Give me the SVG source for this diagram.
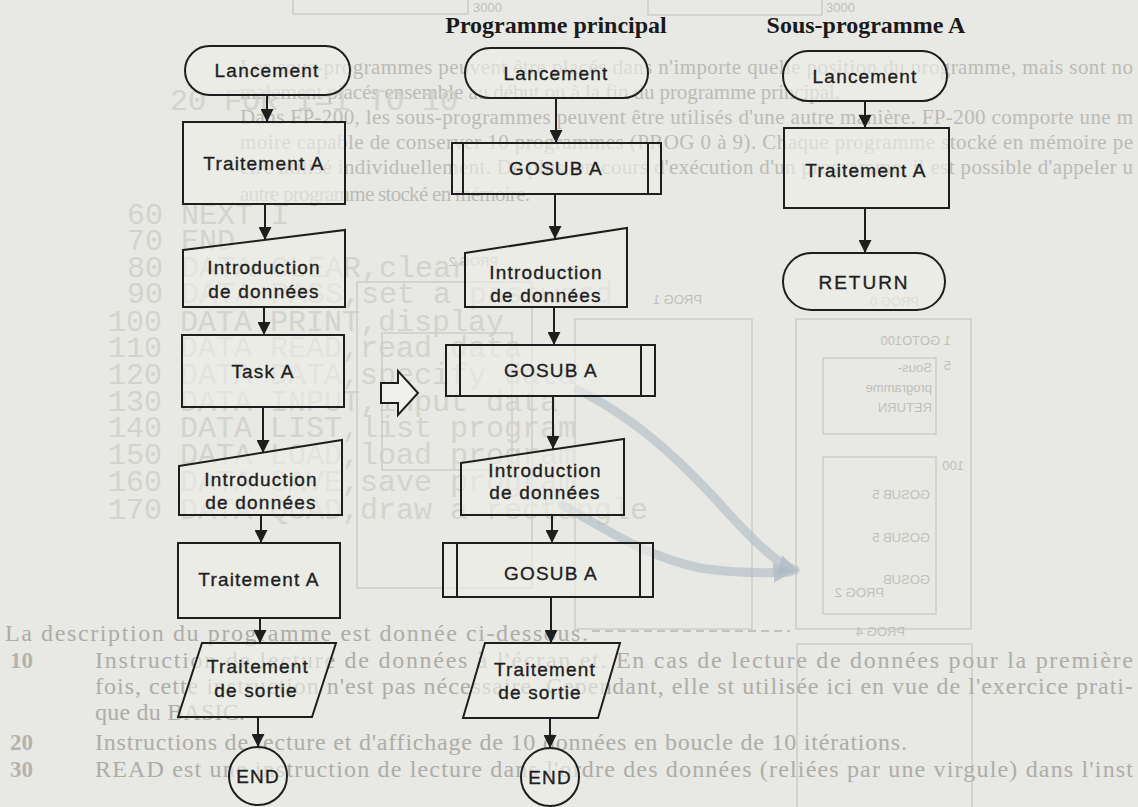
<svg xmlns="http://www.w3.org/2000/svg" width="1138" height="807" viewBox="0 0 1138 807">
<style>
.bg{fill:#e8e8e4}
.ghost{font-family:"Liberation Serif",serif;font-size:21px;fill:#bbbbb6}
.ghostd{font-family:"Liberation Serif",serif;font-size:24px;fill:#adada8}
.ghostb{font-family:"Liberation Serif",serif;font-size:23px;font-weight:bold;fill:#b3b3ad}
.mono{font-family:"Liberation Mono",monospace;font-size:30px;fill:#d3d3ce}
.gsans{font-family:"Liberation Sans",sans-serif;font-size:13px;fill:#c0c0bb}
.gbox{fill:none;stroke:#cdcdc8;stroke-width:1.5}
.title{font-family:"Liberation Serif",serif;font-size:24px;font-weight:bold;fill:#1a1a1a;text-anchor:middle}
.shape{fill:#eeeeea;fill-opacity:0.6;stroke:#1e1e1e;stroke-width:2}
.lbl{font-family:"Liberation Sans",sans-serif;font-size:19px;letter-spacing:1.2px;fill:#1e1e1e;stroke:#1e1e1e;stroke-width:0.35;text-anchor:middle}
.conn{stroke:#1e1e1e;stroke-width:2;fill:none}
.swoosh{fill:none;stroke:#afbbc4;stroke-opacity:0.6;stroke-width:9;stroke-linecap:round}
</style>
<defs>
<marker id="ah" viewBox="0 0 12 12" refX="12" refY="6" markerWidth="13" markerHeight="13" markerUnits="userSpaceOnUse" orient="auto">
<path d="M0,0 L12,6 L0,12 z" fill="#1e1e1e"/>
</marker>
<marker id="gh" viewBox="0 0 12 12" refX="10" refY="6" markerWidth="20" markerHeight="20" markerUnits="userSpaceOnUse" orient="auto">
<path d="M0,0 L12,6 L0,12 z" fill="#afbbc4" fill-opacity="0.75"/>
</marker>
</defs>
<rect class="bg" x="0" y="0" width="1138" height="807"/>

<g id="background-showthrough">
<path class="gbox" d="M293,0 V14 H468 V0 M648,0 V15 H822 V0"/>
<text class="gsans" x="473" y="12">3000</text>
<text class="gsans" x="826" y="12">3000</text>
<text class="ghost" x="240" y="74" textLength="893" lengthAdjust="spacing">Les sous-programmes peuvent être placés dans n'importe quelle position du programme, mais sont no</text>
<text class="ghost" x="240" y="99" textLength="600" lengthAdjust="spacing">malement placés ensemble au début ou à la fin du programme principal.</text>
<text class="ghost" x="240" y="124" textLength="893" lengthAdjust="spacing">Dans FP-200, les sous-programmes peuvent être utilisés d'une autre manière. FP-200 comporte une m</text>
<text class="ghost" x="240" y="149" textLength="893" lengthAdjust="spacing">moire capable de conserver 10 programmes (PROG 0 à 9). Chaque programme stocké en mémoire pe</text>
<text class="ghost" x="240" y="174" textLength="893" lengthAdjust="spacing">être utilisé individuellement. De plus, en cours d'exécution d'un programme, il est possible d'appeler u</text>
<text class="ghost" x="240" y="201" textLength="290" lengthAdjust="spacing">autre programme stocké en mémoire.</text>
<text class="mono" x="170" y="110">20 FOR I=1 TO 10</text>
<text class="mono" x="127" y="224">60 NEXT I</text>
<text class="mono" x="127" y="250">70 END</text>
<text class="mono" x="127" y="277">80 DATA CLEAR,clear</text>
<text class="mono" x="127" y="303">90 DATA PASS,set a password</text>
<text class="mono" x="108" y="331">100 DATA PRINT,display</text>
<text class="mono" x="108" y="357">110 DATA READ,read data</text>
<text class="mono" x="108" y="384">120 DATA DATA,specify data</text>
<text class="mono" x="108" y="411">130 DATA INPUT,input data</text>
<text class="mono" x="108" y="437">140 DATA LIST,list program</text>
<text class="mono" x="108" y="464">150 DATA LOAD,load program</text>
<text class="mono" x="108" y="491">160 DATA SAVE,save program</text>
<text class="mono" x="108" y="519">170 DATA QUAD,draw a rectangle</text>
<rect class="gbox" x="357" y="282" width="175" height="306"/>
<rect class="gbox" x="382" y="333" width="130" height="137"/>
<text class="gsans" transform="translate(498,266) scale(-1,1)">PROG 2</text>
<rect class="gbox" x="575" y="319" width="177" height="310"/>
<text class="gsans" transform="translate(702,304) scale(-1,1)">PROG 1</text>
<rect class="gbox" x="796" y="319" width="175" height="310"/>
<text class="gsans" transform="translate(919,306) scale(-1,1)">PROG 0</text>
<text class="gsans" transform="translate(951,345) scale(-1,1)">1 GOTO100</text>
<text class="gsans" transform="translate(951,370) scale(-1,1)">5</text>
<rect class="gbox" x="823" y="358" width="113" height="76"/>
<text class="gsans" transform="translate(932,372) scale(-1,1)">Sous-</text>
<text class="gsans" transform="translate(932,392) scale(-1,1)">programme</text>
<text class="gsans" transform="translate(932,412) scale(-1,1)">RETURN</text>
<rect class="gbox" x="823" y="457" width="113" height="157"/>
<text class="gsans" transform="translate(964,470) scale(-1,1)">100</text>
<text class="gsans" transform="translate(930,499) scale(-1,1)">GOSUB 5</text>
<text class="gsans" transform="translate(930,542) scale(-1,1)">GOSUB 5</text>
<text class="gsans" transform="translate(930,584) scale(-1,1)">GOSUB</text>
<text class="gsans" transform="translate(884,597) scale(-1,1)">PROG 2</text>
<path d="M592,631 H790" stroke="#b5b5b0" stroke-width="1.5" stroke-dasharray="8,5"/>
<text class="gsans" transform="translate(905,636) scale(-1,1)">PROG 4</text>
<rect class="gbox" x="797" y="644" width="175" height="170"/>
<text class="ghostd" x="5" y="641" textLength="583" lengthAdjust="spacing">La description du programme est donnée ci-dessous.</text>
<text class="ghostb" x="10" y="668">10</text>
<text class="ghostd" x="95" y="668" textLength="1038" lengthAdjust="spacing">Instruction de lecture de données à l'écran et. En cas de lecture de données pour la première</text>
<text class="ghostd" x="95" y="694" textLength="1038" lengthAdjust="spacing">fois, cette instruction n'est pas nécessaire. Cependant, elle st utilisée ici en vue de l'exercice prati-</text>
<text class="ghostd" x="95" y="720" textLength="150" lengthAdjust="spacing">que du BASIC.</text>
<text class="ghostb" x="10" y="750">20</text>
<text class="ghostd" x="95" y="750" textLength="812" lengthAdjust="spacing">Instructions de lecture et d'affichage de 10 données en boucle de 10 itérations.</text>
<text class="ghostb" x="10" y="777">30</text>
<text class="ghostd" x="95" y="777" textLength="1038" lengthAdjust="spacing">READ est une instruction de lecture dans l'ordre des données (reliées par une virgule) dans l'inst</text>
<path class="swoosh" d="M578,390 C640,420 690,470 730,515 C760,548 780,565 795,570" marker-end="url(#gh)"/>
<path class="swoosh" d="M562,505 C600,525 640,555 700,568 C740,574 770,573 790,572" marker-end="url(#gh)"/>
</g>

<text class="title" x="556" y="33">Programme principal</text>
<text class="title" x="866" y="33">Sous-programme A</text>

<g id="connectors">
<path class="conn" d="M267,95 V122" marker-end="url(#ah)"/>
<path class="conn" d="M265,204 V240" marker-end="url(#ah)"/>
<path class="conn" d="M264,307 V335" marker-end="url(#ah)"/>
<path class="conn" d="M263,407 V453" marker-end="url(#ah)"/>
<path class="conn" d="M261,515 V543" marker-end="url(#ah)"/>
<path class="conn" d="M260,618 V643" marker-end="url(#ah)"/>
<path class="conn" d="M258,717 V747" marker-end="url(#ah)"/>
<path class="conn" d="M556,98 V143" marker-end="url(#ah)"/>
<path class="conn" d="M555,194 V239" marker-end="url(#ah)"/>
<path class="conn" d="M554,307 V345" marker-end="url(#ah)"/>
<path class="conn" d="M553,396 V449" marker-end="url(#ah)"/>
<path class="conn" d="M552,515 V543" marker-end="url(#ah)"/>
<path class="conn" d="M551,597 V643" marker-end="url(#ah)"/>
<path class="conn" d="M550,718 V748" marker-end="url(#ah)"/>
<path class="conn" d="M865,101 V128" marker-end="url(#ah)"/>
<path class="conn" d="M865,208 V253" marker-end="url(#ah)"/>
<path d="M381,383 H398 V371 L418,393 L398,415 V403 H381 Z" fill="#f0f0ec" stroke="#1e1e1e" stroke-width="2" stroke-linejoin="miter"/>
</g>

<g id="c1-start"><rect class="shape" x="185" y="46" width="165" height="49" rx="24.5"/><text class="lbl" x="267" y="77">Lancement</text></g>
<g id="c1-traitement"><rect class="shape" x="183" y="122" width="162" height="82"/><text class="lbl" x="264" y="170">Traitement A</text></g>
<g id="c1-input1"><path class="shape" d="M183,250 L345,230 V307 H183 Z"/><text class="lbl" x="264" y="274">Introduction</text><text class="lbl" x="264" y="298">de données</text></g>
<g id="c1-task"><rect class="shape" x="182" y="335" width="162" height="72"/><text class="lbl" x="263" y="378">Task A</text></g>
<g id="c1-input2"><path class="shape" d="M179,466 L342,440 V515 H179 Z"/><text class="lbl" x="261" y="486">Introduction</text><text class="lbl" x="261" y="509">de données</text></g>
<g id="c1-traitement2"><rect class="shape" x="178" y="543" width="162" height="75"/><text class="lbl" x="259" y="586">Traitement A</text></g>
<g id="c1-output"><path class="shape" d="M202,643 H336 L312,717 H178 Z"/><text class="lbl" x="258" y="673">Traitement</text><text class="lbl" x="256" y="697">de sortie</text></g>
<g id="c1-end"><circle class="shape" cx="258" cy="776" r="29"/><text class="lbl" x="258" y="783">END</text></g>

<g id="c2-start"><rect class="shape" x="465" y="48" width="183" height="50" rx="25"/><text class="lbl" x="556" y="80">Lancement</text></g>
<g id="c2-gosub1"><rect class="shape" x="452" y="143" width="209" height="51"/><path class="conn" d="M463,143 V194 M648,143 V194"/><text class="lbl" x="556" y="175">GOSUB A</text></g>
<g id="c2-input1"><path class="shape" d="M465,253 L627,228 V307 H465 Z"/><text class="lbl" x="546" y="279">Introduction</text><text class="lbl" x="546" y="302">de données</text></g>
<g id="c2-gosub2"><rect class="shape" x="446" y="345" width="209" height="51"/><path class="conn" d="M460,345 V396 M641,345 V396"/><text class="lbl" x="551" y="377">GOSUB A</text></g>
<g id="c2-input2"><path class="shape" d="M461,463 L624,439 V515 H461 Z"/><text class="lbl" x="545" y="477">Introduction</text><text class="lbl" x="545" y="499">de données</text></g>
<g id="c2-gosub3"><rect class="shape" x="443" y="543" width="210" height="54"/><path class="conn" d="M457,543 V597 M640,543 V597"/><text class="lbl" x="551" y="580">GOSUB A</text></g>
<g id="c2-output"><path class="shape" d="M485,643 H620 L598,718 H463 Z"/><text class="lbl" x="545" y="676">Traitement</text><text class="lbl" x="540" y="699">de sortie</text></g>
<g id="c2-end"><circle class="shape" cx="550" cy="777" r="29"/><text class="lbl" x="550" y="784">END</text></g>

<g id="c3-start"><rect class="shape" x="783" y="51" width="164" height="50" rx="25"/><text class="lbl" x="865" y="83">Lancement</text></g>
<g id="c3-traitement"><rect class="shape" x="784" y="128" width="165" height="80"/><text class="lbl" x="866" y="177">Traitement A</text></g>
<g id="c3-return"><rect class="shape" x="783" y="253" width="162" height="57" rx="28.5"/><text class="lbl" x="864" y="289" style="letter-spacing:2px">RETURN</text></g>
</svg>
